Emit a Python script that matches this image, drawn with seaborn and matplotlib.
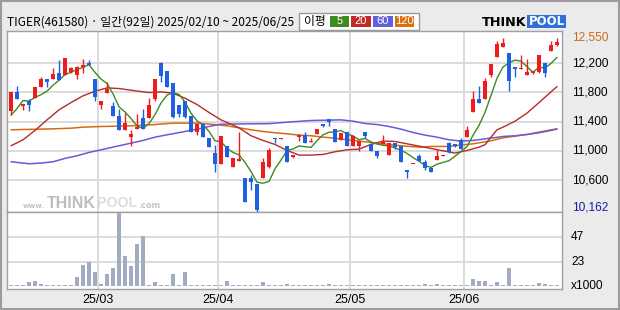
import numpy as np
import pandas as pd
import matplotlib
matplotlib.use("Agg")
import matplotlib.pyplot as plt
import seaborn as sns
from matplotlib.patches import Rectangle
from matplotlib.transforms import blended_transform_factory

# ---------------- data ----------------
title = "TIGER(461580) · 일간(92일) 2025/02/10 ~ 2025/06/25"
month_labels = ["25/03", "25/04", "25/05", "25/06"]
month_start_idx = [15, 35, 57, 76]
price_ticks = [12200, 11800, 11400, 11000, 10600]
price_tick_labels = ["12,200", "11,800", "11,400", "11,000", "10,600"]
max_label = "12,550"
min_label = "10,162"
vol_ticks = [23.5, 47]
vol_tick_labels = ["23", "47"]

opens = [11552, 11807, 11616, 11689, 11725, 11871, 11980, 11980, 12062, 12044,
         12081, 12044, 12145, 12199, 11980, 11634, 11798, 11616, 11479, 11288,
         11188, 11297, 11452, 11452, 11716, 12199, 12099, 11935, 11625, 11689,
         11479, 11260, 11370, 11169, 10968, 10814, 11060, 10777, 10859, 10631,
         10631, 10540, 10622, 10777, 11178, 11160, 11069, 10914, 11188, 11215,
         11114, 11224, 11370, 11433, 11297, 11142, 11260, 11060, 11060, 11260,
         11096, 10996, 11087, 10941, 11105, 11069, 10741, 10814, 10932, 10850,
         10768, 10868, 10932, 11105, 11096, 11151, 11188, 11525, 11707, 11707,
         12035, 12290, 12418, 12336, 12145, 12117, 12044, 12062, 12081, 12199,
         12372, 12445]
highs = [11807, 11889, 11643, 11707, 11871, 12008, 11980, 12135, 12245, 12272,
         12154, 12160, 12254, 12245, 11980, 11680, 11944, 11670, 11579, 11515,
         11288, 11506, 11570, 11725, 11990, 12217, 12099, 11935, 11625, 11689,
         11479, 11370, 11370, 11169, 11078, 11206, 11060, 10905, 11251, 10631,
         10668, 10540, 10905, 11032, 11178, 11178, 11069, 10941, 11233, 11260,
         11169, 11297, 11370, 11433, 11297, 11242, 11260, 11215, 11133, 11260,
         11110, 10996, 11215, 11110, 11105, 11069, 10741, 10823, 10959, 10868,
         10768, 11014, 10941, 11123, 11096, 11169, 11342, 11816, 11889, 11999,
         12190, 12509, 12550, 12336, 12145, 12309, 12263, 12099, 12318, 12208,
         12509, 12545]
lows = [11488, 11707, 11561, 11552, 11725, 11871, 11880, 11980, 11971, 12035,
        12072, 11990, 12062, 12172, 11680, 11579, 11790, 11470, 11288, 11288,
        11060, 11297, 11297, 11452, 11680, 11944, 11880, 11443, 11461, 11452,
        11260, 11215, 11188, 11050, 10704, 10814, 10914, 10777, 10859, 10294,
        10458, 10162, 10622, 10759, 11105, 11160, 10841, 10905, 11133, 11105,
        11114, 11224, 11324, 11342, 11114, 11142, 11060, 11060, 10996, 11169,
        10996, 10896, 11087, 10941, 11023, 10841, 10631, 10814, 10859, 10731,
        10713, 10868, 10932, 10970, 11050, 11023, 11188, 11525, 11661, 11707,
        12008, 12290, 12418, 11816, 12008, 12117, 12044, 12050, 12072, 12017,
        12372, 12436]
closes = [11807, 11707, 11643, 11634, 11871, 11990, 11944, 12053, 11971, 12272,
          12135, 12145, 12181, 12172, 11734, 11680, 11844, 11470, 11288, 11379,
          11233, 11333, 11297, 11625, 11990, 12026, 11880, 11461, 11506, 11461,
          11260, 11370, 11188, 11050, 10814, 11206, 10914, 10905, 10887, 10294,
          10577, 10185, 10841, 11005, 11160, 11178, 10841, 10941, 11215, 11105,
          11133, 11297, 11342, 11397, 11114, 11242, 11060, 11206, 11133, 11206,
          10996, 10923, 11114, 11105, 11050, 10850, 10704, 10823, 10859, 10759,
          10713, 10932, 10941, 10978, 11069, 11023, 11288, 11707, 11661, 11953,
          12190, 12464, 12473, 11953, 12126, 12126, 12081, 12090, 12309, 12062,
          12445, 12491]
volumes_k = [0.8, 0.8, 0.8, 4.2, 5.1, 2.2, 0.8, 1.3, 0.8, 0.8,
             1.3, 9.0, 20.5, 23.3, 13.7, 2.2, 11.8, 17.6, 70.5, 29.1,
             19.5, 40.0, 47.6, 0.8, 4.2, 1.3, 0.8, 11.5, 0.8, 13.4,
             0.8, 0.8, 0.8, 0.8, 0.8, 0.8, 5.1, 0.8, 0.8, 0.8,
             0.8, 0.8, 4.2, 0.8, 0.8, 0.8, 2.2, 0.8, 0.8, 0.8,
             0.8, 0.8, 0.8, 2.2, 0.8, 0.8, 0.8, 0.8, 1.3, 1.3,
             0.8, 0.8, 0.8, 0.8, 0.8, 0.8, 0.8, 0.8, 0.8, 2.2,
             0.8, 2.2, 0.8, 1.3, 0.8, 0.8, 0.8, 7.0, 5.4, 5.4,
             0.8, 4.2, 0.8, 17.0, 0.8, 0.8, 0.8, 0.8, 3.5, 2.2,
             0.8, 0.8]

# moving averages
ma5_lead = [11488, 11579, 11689, 11680]
ma20_x = [0, 2, 4, 6, 8, 10, 12, 14, 16, 18, 20, 23, 25, 27, 29, 31, 33, 35, 36,
          38, 40, 42, 44, 46, 48, 50, 52, 54, 56, 58, 60, 62, 64, 66, 68, 70,
          72, 74, 76, 78, 79, 80, 81, 82, 84, 86, 88, 90, 91]
ma20_v = [11069, 11151, 11279, 11424, 11561, 11661, 11753, 11816, 11862, 11853,
          11830, 11798, 11807, 11789, 11720, 11634, 11525, 11424, 11388, 11315,
          11206, 11142, 11087, 11005, 10941, 10941, 10950, 10987, 11014, 11023,
          11087, 11133, 11128, 11096, 11064, 11032, 11000, 10969, 11005, 11050,
          11083, 11187, 11288, 11324, 11406, 11516, 11661, 11807, 11880]
ma60_x = [0, 3, 5, 7, 9, 11, 13, 15, 18, 20, 22, 24, 26, 29, 31, 33, 35, 40, 43,
          46, 50, 55, 57, 59, 61, 63, 65, 67, 69, 71, 73, 75, 77, 80, 82, 84,
          86, 88, 90, 91]
ma60_v = [10850, 10823, 10832, 10850, 10896, 10932, 10978, 11014, 11069, 11105,
          11142, 11187, 11219, 11265, 11297, 11333, 11365, 11370, 11372, 11392,
          11415, 11424, 11406, 11374, 11360, 11333, 11297, 11251, 11215, 11187,
          11151, 11133, 11142, 11174, 11196, 11206, 11224, 11247, 11279, 11297]
ma120_x = [0, 7, 10, 12, 15, 18, 20, 24, 27, 31, 34, 36, 38, 40, 42, 44, 46, 48,
           50, 52, 54, 56, 58, 60, 62, 65, 68, 70, 73, 75, 77, 80, 82, 84, 86,
           88, 90, 91]
ma120_v = [11288, 11301, 11310, 11324, 11333, 11338, 11342, 11360, 11379, 11379,
           11360, 11342, 11315, 11288, 11265, 11247, 11233, 11215, 11206, 11187,
           11174, 11151, 11133, 11114, 11096, 11069, 11050, 11060, 11060, 11078,
           11096, 11137, 11178, 11201, 11224, 11256, 11288, 11301]

# ---------------- style ----------------
sns.set_theme(style="white")
plt.rcParams['font.family'] = ['Liberation Sans', 'Noto Sans CJK KR', 'DejaVu Sans']
CJK = ['Noto Sans CJK KR', 'DejaVu Sans']

RED = '#f01c1c'
BLUE = '#1f5fe3'
C5, C20, C60, C120 = '#3d8b1e', '#b52a2a', '#6a5ad8', '#d66c12'
GRID = '#d9d9d9'
SPINE = '#a0a0a0'
BG = '#ebebeb'

W, H = 620, 310
fig = plt.figure(figsize=(6.2, 3.1), dpi=100, facecolor=BG)


def fx(px):
    return px / W


def fy(py):
    return 1 - py / H


ax = fig.add_axes([fx(7), fy(212), 555 / W, 181 / H], facecolor='white')
axv = fig.add_axes([fx(7), fy(289), 555 / W, 77 / H], facecolor='white')

n = len(closes)
x = np.arange(n)
o = np.array(opens, float)
c = np.array(closes, float)
hi = np.array(highs, float)
lo = np.array(lows, float)
up = c >= o
cols = np.where(up, RED, BLUE)

for a in (ax, axv):
    a.set_xlim(-0.67, 91.83)
    a.set_xticks([])
    a.set_yticks([])
    for s in a.spines.values():
        s.set_color(SPINE)
        s.set_linewidth(1.0)
    for m in month_start_idx:
        a.axvline(m - 0.45, color=GRID, lw=1.3, zorder=0)

ax.set_ylim(10162, 12641)
for p in price_ticks:
    ax.axhline(p, color=GRID, lw=1.3, zorder=0)

# watermark
wm_y = fy(203)
t_www = fig.text(fx(23), fy(205.5), "www.", color='#c4c4c4', fontsize=9,
                 fontweight='bold', ha='left', va='center', family='DejaVu Sans',
                 zorder=1)
t_think = fig.text(fx(47), wm_y, "THINK", color='#bdbdbd', fontsize=14,
                   fontweight='bold', ha='left', va='center', zorder=1)
t_pool = fig.text(fx(97), wm_y, "POOL", color='#dcdcdc', fontsize=14,
                  fontweight='bold', ha='left', va='center', zorder=1)
t_com = fig.text(fx(138), fy(205.5), ".com", color='#c4c4c4', fontsize=9,
                 fontweight='bold', ha='left', va='center', family='DejaVu Sans',
                 zorder=1)

# moving averages
ma5 = pd.Series(closes, dtype=float).rolling(5).mean().to_numpy()
ma5[:4] = ma5_lead
sns.lineplot(x=ma120_x, y=ma120_v, ax=ax, color=C120, linewidth=1.1, zorder=2,
             legend=False, estimator=None)
sns.lineplot(x=ma60_x, y=ma60_v, ax=ax, color=C60, linewidth=1.1, zorder=2,
             legend=False, estimator=None)
sns.lineplot(x=ma20_x, y=ma20_v, ax=ax, color=C20, linewidth=1.0, zorder=2,
             legend=False, estimator=None)
sns.lineplot(x=x, y=ma5, ax=ax, color=C5, linewidth=1.0, zorder=2,
             legend=False, estimator=None)

# candles
body_bottom = np.minimum(o, c)
body_h = np.maximum(np.abs(c - o), 14)
ax.vlines(x, lo, hi, colors=cols, lw=1.0, zorder=3)
ax.bar(x, body_h, bottom=body_bottom, width=0.78, color=cols, linewidth=0, zorder=4)
ax.set_xlabel("")
ax.set_ylabel("")

# volume
axv.set_ylim(-2.6, 70.6)
for v in vol_ticks:
    axv.axhline(v, color=GRID, lw=1.3, zorder=0)
axv.bar(x, volumes_k, width=0.8, color='#a3abc2', linewidth=0, zorder=2)

# right labels
tr_main = blended_transform_factory(fig.transFigure, ax.transData)
for p, lab in zip(price_ticks, price_tick_labels):
    ax.text(fx(572), p, lab, transform=tr_main, ha='left', va='center',
            fontsize=8.6, color='black')
ax.text(fx(572), 12550, max_label, transform=tr_main, ha='left', va='center',
        fontsize=8.6, color='#cc6a1a')
fig.text(fx(572), fy(207), min_label, ha='left', va='center', fontsize=8.6,
         color='#1a1aa6')

tr_vol = blended_transform_factory(fig.transFigure, axv.transData)
for v, lab in zip(vol_ticks, vol_tick_labels):
    axv.text(fx(571), v, lab, transform=tr_vol, ha='left', va='center',
             fontsize=8.6, color='black')
fig.text(fx(571), fy(286), "x1000", ha='left', va='center', fontsize=8.6,
         color='black')

# month labels
tr_x = blended_transform_factory(axv.transData, fig.transFigure)
for m, lab in zip(month_start_idx, month_labels):
    axv.text(m - 0.45, fy(300), lab, transform=tr_x, ha='center', va='center',
             fontsize=9, color='black')

# title
t_title = fig.text(fx(7), fy(22), title, ha='left', va='center', fontsize=9,
                   family=CJK, color='black')

# legend box
fig.add_artist(Rectangle((fx(299), fy(30)), 120 / W, 17 / H, transform=fig.transFigure,
                         facecolor='white', edgecolor='#9a9a9a', lw=1.0))
fig.text(fx(315), fy(21.5), "이평", ha='center', va='center', fontsize=8.5,
         family=CJK, color='black')
boxes = [(330, 349, C5, "5"), (351, 371, '#c02a2a', "20"), (373, 393, '#6060dc', "60"),
         (395, 414, '#dc7010', "120")]
for x0, x1, col, lab in boxes:
    fig.add_artist(Rectangle((fx(x0), fy(26.7)), (x1 - x0) / W, 11 / H,
                             transform=fig.transFigure, facecolor=col, edgecolor='none'))
    fig.text(fx((x0 + x1) / 2), fy(21.3), lab, ha='center', va='center', fontsize=8,
             color='white')

# logo
t_lthink = fig.text(fx(482), fy(22), "THINK", ha='left', va='center', fontsize=9.5,
                    fontweight='bold', color='black', family='DejaVu Sans')
fig.add_artist(Rectangle((fx(527), fy(28)), 39 / W, 13 / H, transform=fig.transFigure,
                         facecolor='#2f6fd8', edgecolor='none'))
t_lpool = fig.text(fx(546.5), fy(21.8), "POOL", ha='center', va='center', fontsize=9.5,
                   fontweight='bold', color='white', family='DejaVu Sans')

# fit some text widths to the reference
renderer = fig.canvas.get_renderer()


def fit(t, target_px):
    w = t.get_window_extent(renderer).width
    if w > 0:
        t.set_fontsize(t.get_fontsize() * target_px / w)


fit(t_title, 287)
fit(t_www, 22)
fit(t_think, 49)
fit(t_pool, 40)
fit(t_com, 22)
fit(t_lthink, 45)
fit(t_lpool, 36)

# outer frame
fig.add_artist(Rectangle((0.0015, 0.003), 0.997, 0.994, transform=fig.transFigure,
                         fill=False, edgecolor='#9c9c9c', lw=1.5))

fig.savefig("out.png", dpi=100, facecolor=BG)
